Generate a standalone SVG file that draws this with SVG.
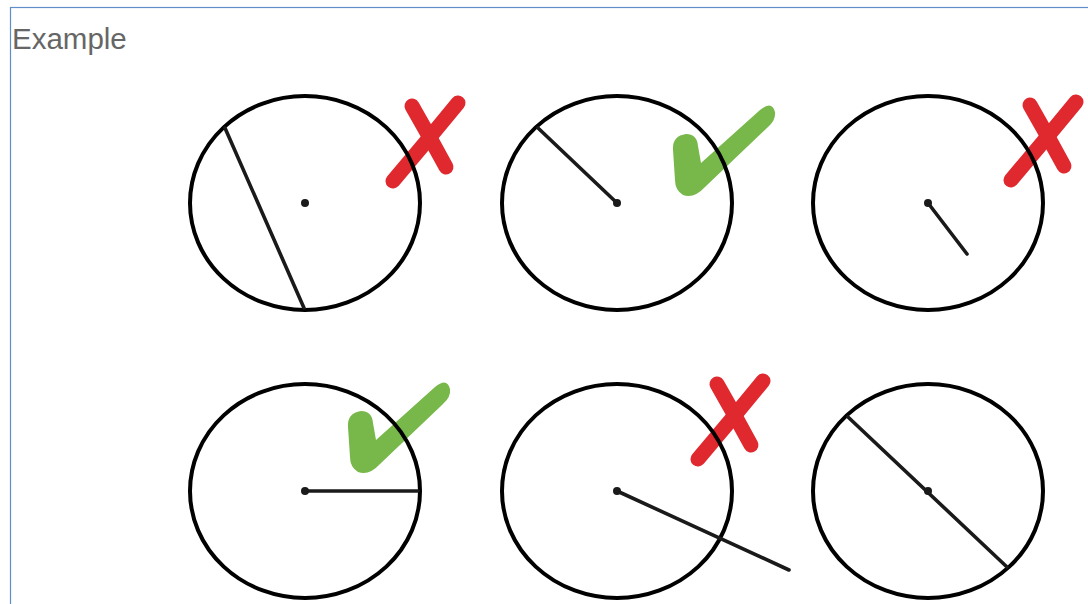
<svg xmlns="http://www.w3.org/2000/svg" xmlns:xlink="http://www.w3.org/1999/xlink" width="1088" height="604" viewBox="0 0 1088 604">
<style>
.ring{fill:none;stroke:#000;stroke-width:4}
.seg{stroke:#1a1a1a;stroke-width:3.6;stroke-linecap:round}
.dot{fill:#1a1a1a}
.xm{stroke:#e0282f;stroke-width:15;stroke-linecap:round;fill:none}
.ck{fill:#78b84a}
</style>
<defs>
<g id="cross">
<path class="xm" d="M412,106 L429,136 L446,167"/>
<path class="xm" d="M393,181 L425,143 L458,103"/>
</g>
<g id="check">
<path class="ck" d="M673,150 Q672,136 686,134 Q697,134 698,146 L701,163 L760,110 Q772,100 775,112 Q776,120 768,127 L705,187 Q694,199 683,195 Q675,190 675,180 Z"/>
</g>
</defs>
<rect x="0" y="0" width="1088" height="604" fill="#fff"/>
<rect x="10.5" y="7.5" width="1100" height="620" fill="none" stroke="#5f8dc8" stroke-width="1.2"/>
<text x="12" y="49" font-family="Liberation Sans, Arial, sans-serif" font-size="29.5" fill="#666">Example</text>

<g id="c1">
<use xlink:href="#cross"/>
<ellipse class="ring" cx="305" cy="203" rx="115" ry="107"/>
<line class="seg" x1="225" y1="128" x2="304" y2="308"/>
<circle class="dot" cx="305" cy="203" r="4"/>
</g>
<g id="c2">
<use xlink:href="#check"/>
<ellipse class="ring" cx="617" cy="203" rx="115" ry="107"/>
<line class="seg" x1="538" y1="128" x2="617" y2="203"/>
<circle class="dot" cx="617" cy="203" r="4"/>
</g>
<g id="c3">
<use xlink:href="#cross" transform="translate(618,-1)"/>
<ellipse class="ring" cx="928" cy="203" rx="115" ry="107"/>
<line class="seg" x1="928" y1="203" x2="967" y2="254"/>
<circle class="dot" cx="928" cy="203" r="4"/>
</g>
<g id="c4">
<use xlink:href="#check" transform="translate(-325,277)"/>
<ellipse class="ring" cx="305" cy="491" rx="115" ry="107"/>
<line class="seg" x1="305" y1="491" x2="418" y2="491"/>
<circle class="dot" cx="305" cy="491" r="4"/>
</g>
<g id="c5">
<use xlink:href="#cross" transform="translate(305,278)"/>
<ellipse class="ring" cx="617" cy="491" rx="115" ry="107"/>
<line class="seg" x1="617" y1="491" x2="789" y2="570"/>
<circle class="dot" cx="617" cy="491" r="4"/>
</g>
<g id="c6">
<ellipse class="ring" cx="928" cy="491" rx="115" ry="107"/>
<line class="seg" x1="848" y1="417" x2="1007" y2="567"/>
<circle class="dot" cx="928" cy="491" r="4"/>
</g>
</svg>
